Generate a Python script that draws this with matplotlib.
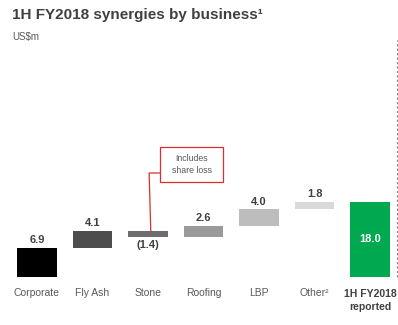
import numpy as np
import matplotlib
matplotlib.use('Agg')
import matplotlib.pyplot as plt
from matplotlib.patches import Rectangle

plt.rcParams['font.family'] = ['Liberation Sans', 'DejaVu Sans']

# Waterfall data (US$m)
categories = ['Corporate', 'Fly Ash', 'Stone', 'Roofing', 'LBP', 'Other²']
deltas = [6.9, 4.1, -1.4, 2.6, 4.0, 1.8]
total_label = '1H FY2018\nreported'
total_value = 18.0
bar_colors = ['#000000', '#4d4d4d', '#6d6d6f', '#9a9a9a', '#bdbdbd', '#d9d9d9']
green = '#00a94f'

fig = plt.figure(figsize=(3.98, 3.25), dpi=100)
ax = fig.add_axes([0, 0, 1, 1])
px_per_unit = 4.17
ax.set_xlim(-37 / 55.5, (398 - 37) / 55.5)
ax.set_ylim(-48 / px_per_unit, 277 / px_per_unit)
ax.axis('off')

def px(x, y):
    # pixel position in the picture -> data coords
    return (x - 37) / 55.5, (277 - y) / px_per_unit

width = 0.72
text_col = '#404040'
label_col = '#595959'

running = 0.0
for i, (cat, d, c) in enumerate(zip(categories, deltas, bar_colors)):
    bottom = running if d >= 0 else running + d
    ax.bar(i, abs(d), bottom=bottom, width=width, color=c, edgecolor='none')
    if d >= 0:
        ax.annotate(f'{d:.1f}', (i, bottom + abs(d)), xytext=(0, 2), textcoords='offset points',
                    ha='center', va='bottom', fontsize=8, fontweight='bold', color=text_col)
    else:
        ax.annotate(f'({abs(d):.1f})', (i, bottom), xytext=(0, -2), textcoords='offset points',
                    ha='center', va='top', fontsize=8, fontweight='bold', color=text_col)
    ax.text(i, -3.85, cat, ha='center', va='center', fontsize=7.5, color=label_col)
    running += d

n = len(categories)
ax.bar(n, total_value, width=width, color=green, edgecolor='none')
ax.text(n, total_value / 2, f'{total_value:.1f}', ha='center', va='center',
        fontsize=8, fontweight='bold', color='white')
ax.text(n, -5.6, total_label, ha='center', va='center', fontsize=7.5,
        fontweight='bold', color=text_col, linespacing=1.3)

# dashed separator at right edge
ax.plot([6.48, 6.48], [0, 237 / px_per_unit], color='#808080', lw=0.8, ls=(0, (2, 2)))

# callout for Stone
stone_top = deltas[0] + deltas[1]
x0, y0 = px(160, 182)
x1, y1 = px(223, 147)
ax.add_patch(Rectangle((x0, y0), x1 - x0, y1 - y0, fc='white', ec='#d9312f', lw=0.9))
ax.plot([2.05, 2.02, x0], [stone_top, px(0, 173)[1], px(0, 173)[1]], color='#d9312f', lw=0.9)
ax.text((x0 + x1) / 2, (y0 + y1) / 2, 'Includes\nshare loss', ha='center', va='center',
        fontsize=6.3, color=label_col, linespacing=1.3)

fig.text(12 / 398, 1 - 15 / 325, '1H FY2018 synergies by business¹', ha='left', va='center',
         fontsize=11, fontweight='bold', color=text_col)
fig.text(12 / 398, 1 - 37 / 325, 'US$m', ha='left', va='center', fontsize=7, color=label_col)

fig.savefig('out.png', dpi=100)
